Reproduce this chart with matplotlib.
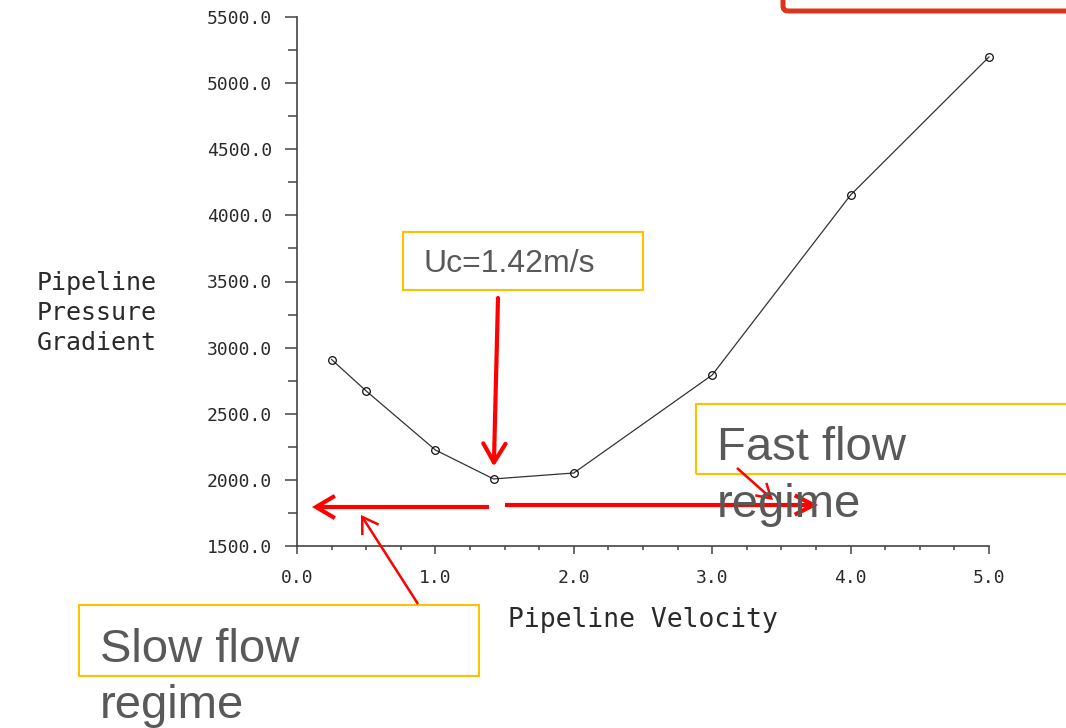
import matplotlib
matplotlib.use('Agg')
import matplotlib.pyplot as plt
import matplotlib.ticker as mticker
from matplotlib.patches import Rectangle, FancyBboxPatch, FancyArrowPatch

# data
velocity = [0.25, 0.5, 1.0, 1.42, 2.0, 3.0, 4.0, 5.0]
pressure = [2910, 2672, 2226, 2007, 2052, 2793, 4154, 5198]
uc_value = 1.42
uc_label = 'Uc=1.42m/s'
fast_lines = ['Fast flow', 'regime']
slow_lines = ['Slow flow', 'regime']
xlabel = 'Pipeline Velocity'
ylabel = 'Pipeline\nPressure\nGradient'

W, H = 1066, 728
fig = plt.figure(figsize=(W / 100, H / 100), dpi=100)
ax = fig.add_axes([297 / W, 1 - 546 / H, (989 - 297) / W, (546 - 17) / H])

mono = 'DejaVu Sans Mono'
ink = '#2a2a2a'

ax.plot(velocity, pressure, color='#333333', lw=0.9, marker='o', ms=5.5,
        mfc='none', mec='#111111', mew=0.9, clip_on=False)

ax.set_xlim(0, 5)
ax.set_ylim(1500, 5500)
ax.xaxis.set_major_locator(mticker.MultipleLocator(1.0))
ax.xaxis.set_minor_locator(mticker.MultipleLocator(0.25))
ax.yaxis.set_major_locator(mticker.MultipleLocator(500))
ax.yaxis.set_minor_locator(mticker.MultipleLocator(250))
ax.xaxis.set_major_formatter(mticker.FormatStrFormatter('%.1f'))
ax.yaxis.set_major_formatter(mticker.FormatStrFormatter('%.1f'))

for s in ['top', 'right']:
    ax.spines[s].set_visible(False)
for s in ['left', 'bottom']:
    ax.spines[s].set_color('#444444')
    ax.spines[s].set_linewidth(1.2)

ax.tick_params(axis='y', which='major', direction='out', length=9, width=1.1,
               color='#444444', pad=9, labelsize=13, labelcolor=ink)
ax.tick_params(axis='y', which='minor', direction='out', length=6.5, width=1.1,
               color='#444444')
ax.tick_params(axis='x', which='major', direction='out', length=5.5, width=1.1,
               color='#444444', pad=11, labelsize=13, labelcolor=ink)
ax.tick_params(axis='x', which='minor', direction='out', length=3, width=1.1,
               color='#444444')
for lab in ax.get_xticklabels() + ax.get_yticklabels():
    lab.set_family(mono)

# axis titles placed where the reference has them
fig.text(643 / W, 1 - 620 / H, xlabel, family=mono, fontsize=19, color=ink,
         ha='center', va='center')
fig.text(157 / W, 1 - 313 / H, ylabel, family=mono, fontsize=18, color=ink,
         ha='right', va='center', multialignment='right', linespacing=1.32)

# overlay helpers: image pixel -> inches
tr = fig.dpi_scale_trans
def inch(x, y):
    return (x / 100, (H - y) / 100)

sans = 'Liberation Sans'
grey = '#595959'
yellow = '#FFC000'
red = '#FF0000'

# red frame cut off at top right
frame = FancyBboxPatch(inch(783, 11), 4.0, 0.8, boxstyle='round,pad=0,rounding_size=0.05',
                       transform=tr, fill=False, ec='#D9361C', lw=3.6, clip_on=False)
fig.add_artist(frame)

# yellow boxes
def ybox(x0, y0, x1, y1):
    r = Rectangle(inch(x0, y1), (x1 - x0) / 100, (y1 - y0) / 100, transform=tr,
                  fill=False, ec=yellow, lw=1.5)
    fig.add_artist(r)

ybox(403, 232, 643, 290)
ybox(696, 404, 1080, 474)
ybox(79, 605, 479, 676)

fig.text(*inch(423, 272), uc_label, transform=tr, family=sans, fontsize=23,
         color=grey, va='baseline')
fig.text(*inch(717, 460), fast_lines[0], transform=tr, family=sans, fontsize=34,
         color=grey, va='baseline')
fig.text(*inch(717, 517), fast_lines[1], transform=tr, family=sans, fontsize=34,
         color=grey, va='baseline')
fig.text(*inch(100, 662), slow_lines[0], transform=tr, family=sans, fontsize=34,
         color=grey, va='baseline')
fig.text(*inch(100, 718), slow_lines[1], transform=tr, family=sans, fontsize=34,
         color=grey, va='baseline')

# red arrows
def arrow(p0, p1, lw, hl, hw):
    a = FancyArrowPatch(inch(*p0), inch(*p1), transform=tr,
                        arrowstyle='->,head_length=%g,head_width=%g' % (hl, hw),
                        mutation_scale=1, color=red, lw=lw, shrinkA=0, shrinkB=0,
                        capstyle='butt', joinstyle='miter')
    fig.add_artist(a)

# arrow down to the critical velocity point
ax.annotate('', xy=(uc_value, pressure[velocity.index(uc_value)]),
            xytext=inch(498, 298), textcoords=tr,
            arrowprops=dict(arrowstyle='->,head_length=13.5,head_width=8',
                            mutation_scale=1, color=red, lw=3, shrinkA=0, shrinkB=9))
arrow((489, 507), (312, 507), 3, 13.5, 8)
arrow((505, 505), (818, 505), 3, 13.5, 7)
arrow((737, 468), (773, 500), 1.8, 10, 6)
arrow((418, 604), (361, 515), 1.8, 11, 7)

fig.savefig('out.png', dpi=100)
